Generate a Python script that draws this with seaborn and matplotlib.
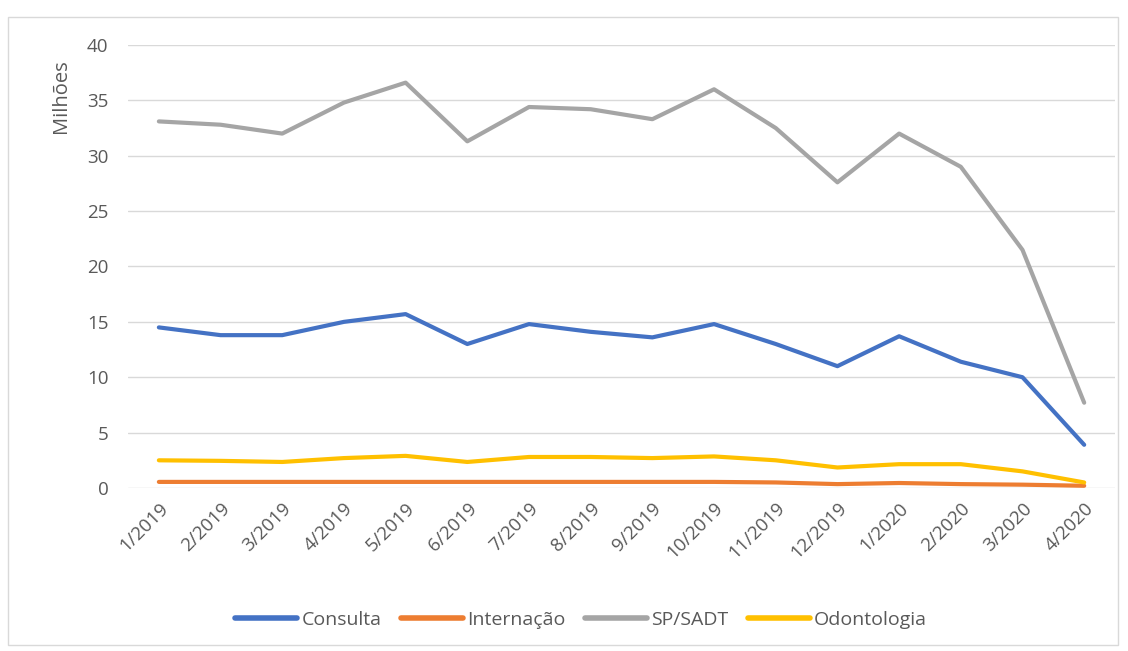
import pandas as pd
import matplotlib.pyplot as plt
import seaborn as sns
from matplotlib.patches import Rectangle

# data (milhões)
meses = ["1/2019", "2/2019", "3/2019", "4/2019", "5/2019", "6/2019", "7/2019", "8/2019",
         "9/2019", "10/2019", "11/2019", "12/2019", "1/2020", "2/2020", "3/2020", "4/2020"]
consulta = [14.5, 13.8, 13.8, 15.0, 15.7, 13.0, 14.8, 14.1, 13.6, 14.8, 13.0, 11.0, 13.7, 11.4, 10.0, 3.9]
internacao = [0.55, 0.55, 0.55, 0.55, 0.55, 0.55, 0.55, 0.55, 0.55, 0.55, 0.5, 0.35, 0.45, 0.35, 0.3, 0.2]
sp_sadt = [33.1, 32.8, 32.0, 34.8, 36.6, 31.3, 34.4, 34.2, 33.3, 36.0, 32.5, 27.6, 32.0, 29.0, 21.5, 7.7]
odontologia = [2.5, 2.45, 2.35, 2.7, 2.9, 2.35, 2.8, 2.8, 2.7, 2.85, 2.5, 1.85, 2.15, 2.15, 1.5, 0.5]

series = ["Consulta", "Internação", "SP/SADT", "Odontologia"]
cores = ["#4472C4", "#ED7D31", "#A5A5A5", "#FFC000"]

df = pd.DataFrame({"mes": meses, "Consulta": consulta, "Internação": internacao,
                   "SP/SADT": sp_sadt, "Odontologia": odontologia})
df["pos"] = range(len(meses))
long = df.melt(id_vars=["mes", "pos"], value_vars=series, var_name="serie", value_name="valor")

sns.set_style("white")
plt.rcParams["font.family"] = ["Open Sans", "DejaVu Sans"]
txt = "#595959"

fig = plt.figure(figsize=(11.28, 6.51), dpi=100)
ax = fig.add_axes([0.1135, 0.2504, 0.875, 0.6805])

sns.lineplot(data=long, x="pos", y="valor", hue="serie", hue_order=series,
             palette=cores, linewidth=3, ax=ax, legend=False)

ax.set_xlim(-0.5, len(meses) - 0.5)
ax.set_ylim(0, 40)
ax.set_yticks(range(0, 41, 5))
ax.set_xticks(df["pos"])
ax.set_xticklabels(meses, rotation=45, ha="right", rotation_mode="anchor")
ax.yaxis.grid(True, color="#D9D9D9", linewidth=1)
ax.set_axisbelow(True)
for s in ax.spines.values():
    s.set_visible(False)
ax.tick_params(axis="both", length=0, labelsize=13.5, colors=txt)
ax.tick_params(axis="x", pad=8)
ax.tick_params(axis="y", pad=14)
ax.set_xlabel("")
ax.set_ylabel("Milhões", fontsize=14.5, color=txt)
ax.yaxis.set_label_coords(-0.058, 0.885)

handles = [plt.Line2D([], [], color=c, linewidth=4) for c in cores]
fig.legend(handles, series, loc="center", bbox_to_anchor=(0.515, 0.048), ncol=4,
           frameon=False, fontsize=14, labelcolor=txt, handlelength=3.2,
           handletextpad=0.2, columnspacing=1.0)

fig.patches.append(Rectangle((8 / 1128, 6 / 651), 1110 / 1128, 628 / 651, transform=fig.transFigure,
                             fill=False, edgecolor="#D9D9D9", linewidth=1))

plt.savefig("out.png", dpi=100)
plt.close()
